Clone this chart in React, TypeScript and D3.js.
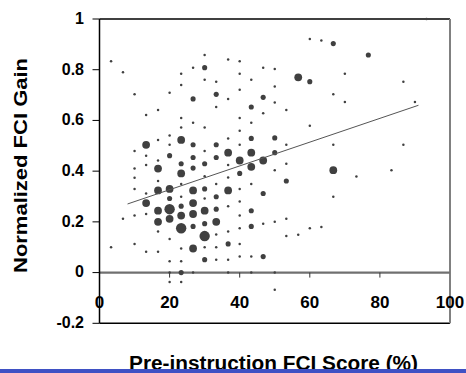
import React, { useEffect, useRef } from 'react';
import { select, scaleLinear, line } from 'd3';

// pre-instruction score columns (30-item test, so steps of 3.33%)
const pretestColumns = [3.3, 6.7, 10, 13.3, 16.7, 20, 23.3, 26.7, 30, 33.3, 36.7, 40, 43.3, 46.7, 50, 53.3, 56.7, 60, 63.3, 66.7, 70, 73.3, 76.7, 83.3, 86.7, 90, 93.3];

const gainsByColumn = [
    [0.833, 0.1],
    [0.79, 0.212],
    [0.703, 0.479, 0.41, 0.374, 0.33, 0.225, 0.113],
    [0.621, 0.504, 0.461, 0.424, 0.312, 0.274, 0.231, 0.082],
    [0.641, 0.523, 0.442, 0.41, 0.361, 0.324, 0.244, 0.2, 0.162, 0.082],
    [0.709, 0.541, 0.504, 0.461, 0.33, 0.292, 0.25, 0.212, 0.132, 0.045, 0, -0.037],
    [0.784, 0.74, 0.61, 0.572, 0.523, 0.429, 0.391, 0.349, 0.299, 0.262, 0.225, 0.175, 0.095, 0.045, 0, -0.037],
    [0.808, 0.685, 0.591, 0.504, 0.454, 0.412, 0.324, 0.274, 0.231, 0.182, 0.095, 0],
    [0.858, 0.808, 0.76, 0.572, 0.479, 0.429, 0.38, 0.33, 0.292, 0.244, 0.193, 0.144, 0.1, 0.051],
    [0.753, 0.703, 0.653, 0.504, 0.454, 0.349, 0.299, 0.25, 0.2, 0.15, 0.1, 0.051],
    [0.84, 0.685, 0.529, 0.473, 0.424, 0.375, 0.324, 0.262, 0.162, 0.113, 0.051, 0],
    [0.833, 0.784, 0.721, 0.61, 0.559, 0.504, 0.442, 0.391, 0.33, 0.28, 0.225, 0.175, 0.113, 0.063],
    [0.76, 0.653, 0.591, 0.529, 0.473, 0.417, 0.349, 0.244, 0.182, 0.063, 0],
    [0.808, 0.691, 0.628, 0.442, 0.312, 0.193, 0.063],
    [0.803, 0.734, 0.671, 0.531, 0.473, 0.404, 0.2, 0, -0.068],
    [0.641, 0.504, 0.429, 0.361, 0.212, 0.144],
    [0.77, 0.149],
    [0.921, 0.753, 0.579, 0.175],
    [0.915, 0.18],
    [0.903, 0.703, 0.504, 0.404, 0.299],
    [0.784, 0.673],
    [0.379],
    [0.858],
    [0.404],
    [0.753, 0.504],
    [0.673],
    [1.0],
];

// relative class size (1 = smallest dot)
const sizesByColumn = [
    [1, 1],
    [1, 1],
    [1, 1, 1, 1, 1, 1, 1],
    [1, 3, 1, 1, 1, 3, 1, 1],
    [1, 1, 1, 3, 1, 3, 3, 3, 1, 1],
    [1, 1, 1, 2, 3, 2, 4, 3, 1, 1, 1, 1],
    [1, 1, 1, 1, 3, 2, 3, 1, 1, 2, 3, 4, 1, 1, 2, 1],
    [1, 2, 1, 2, 2, 2, 3, 3, 3, 2, 3, 1],
    [1, 2, 1, 1, 1, 2, 1, 2, 1, 3, 2, 4, 1, 2],
    [1, 2, 1, 2, 2, 1, 2, 2, 3, 1, 1, 1],
    [1, 1, 1, 3, 1, 1, 3, 1, 1, 2, 1, 1],
    [1, 1, 1, 1, 1, 1, 3, 2, 1, 1, 1, 1, 1, 1],
    [1, 2, 1, 2, 3, 3, 1, 2, 2, 1, 1],
    [1, 2, 1, 3, 2, 1, 2],
    [1, 1, 1, 2, 2, 1, 1, 1, 1],
    [1, 1, 1, 2, 1, 1],
    [3, 1],
    [1, 2, 1, 1],
    [1, 1],
    [2, 1, 1, 3, 1],
    [1, 1],
    [1],
    [2],
    [1],
    [1, 1],
    [1],
    [1],
];

// linear fit
const fitIntercept = 0.233;
const fitSlope = 0.00469;
const fitRange = [8, 91];

const xTicks = [0, 20, 40, 60, 80, 100];
const yTicks = [-0.2, 0, 0.2, 0.4, 0.6, 0.8, 1];
const yTickLabels = ['-0.2', '0', '0.2', '0.4', '0.6', '0.8', '1'];

const W = 466;
const H = 373;
const FONT = '"Liberation Sans", Arial, sans-serif';

export default function App() {
    const svgRef = useRef(null);

    useEffect(() => {
        const svg = select(svgRef.current);
        svg.selectAll('*').remove();

        const x = scaleLinear().domain([0, 100]).range([99.5, 450]);
        const y = scaleLinear().domain([-0.2, 1]).range([323.3, 19]);
        const r = scaleLinear().domain([1, 4]).range([1.25, 5.2]);

        const points = [];
        pretestColumns.forEach((px, i) => {
            gainsByColumn[i].forEach((g, j) => {
                points.push({ pre: px, gain: g, size: sizesByColumn[i][j] });
            });
        });

        // frame
        svg.append('line').attr('x1', x(0)).attr('x2', x(100)).attr('y1', y(1)).attr('y2', y(1))
            .attr('stroke', '#000').attr('stroke-width', 1.5);
        svg.append('line').attr('x1', x(0)).attr('x2', x(100)).attr('y1', y(-0.2)).attr('y2', y(-0.2))
            .attr('stroke', '#000').attr('stroke-width', 1.5);
        svg.append('line').attr('x1', x(100)).attr('x2', x(100)).attr('y1', y(1)).attr('y2', y(-0.2))
            .attr('stroke', '#808080').attr('stroke-width', 2);

        // x axis sits on gain = 0
        svg.append('line').attr('x1', x(0)).attr('x2', x(100)).attr('y1', y(0)).attr('y2', y(0))
            .attr('stroke', '#707070').attr('stroke-width', 2.2);
        svg.selectAll('.xtick')
            .data(xTicks.slice(1, -1))
            .join('line')
            .attr('class', 'xtick')
            .attr('x1', d => x(d)).attr('x2', d => x(d))
            .attr('y1', y(0)).attr('y2', y(0) + 5)
            .attr('stroke', '#333').attr('stroke-width', 1);

        // y axis
        svg.append('line').attr('x1', x(0)).attr('x2', x(0)).attr('y1', y(1)).attr('y2', y(-0.2))
            .attr('stroke', '#000').attr('stroke-width', 1.5);
        svg.selectAll('.ytick')
            .data(yTicks)
            .join('line')
            .attr('class', 'ytick')
            .attr('x1', x(0) - 7).attr('x2', x(0))
            .attr('y1', d => y(d)).attr('y2', d => y(d))
            .attr('stroke', '#000').attr('stroke-width', 1);

        svg.selectAll('.ylab')
            .data(yTicks)
            .join('text')
            .attr('class', 'ylab')
            .attr('x', 84)
            .attr('y', d => y(d))
            .attr('dy', '0.3em')
            .attr('text-anchor', 'end')
            .attr('font-family', FONT).attr('font-weight', 'bold').attr('font-size', 16)
            .text((d, i) => yTickLabels[i]);

        // points
        svg.selectAll('.pt')
            .data(points)
            .join('circle')
            .attr('class', 'pt')
            .attr('cx', d => x(d.pre))
            .attr('cy', d => y(d.gain))
            .attr('r', d => r(d.size))
            .attr('fill', '#404040');

        // fit line
        const fit = line().x(d => x(d)).y(d => y(fitIntercept + fitSlope * d));
        svg.append('path')
            .attr('d', fit(fitRange))
            .attr('fill', 'none')
            .attr('stroke', '#555')
            .attr('stroke-width', 1);

        // x labels drawn over the frame
        svg.selectAll('.xlab')
            .data(xTicks)
            .join('text')
            .attr('class', 'xlab')
            .attr('x', d => x(d))
            .attr('y', 307.5)
            .attr('text-anchor', 'middle')
            .attr('font-family', FONT).attr('font-weight', 'bold').attr('font-size', 17)
            .text(d => d);

        // axis titles
        svg.append('text')
            .attr('transform', 'translate(27,165.5) rotate(-90)')
            .attr('text-anchor', 'middle')
            .attr('font-family', FONT).attr('font-weight', 'bold').attr('font-size', 19)
            .attr('textLength', 215).attr('lengthAdjust', 'spacingAndGlyphs')
            .text('Normalized FCI Gain');

        svg.append('text')
            .attr('x', 273.5)
            .attr('y', 369.5)
            .attr('text-anchor', 'middle')
            .attr('font-family', FONT).attr('font-weight', 'bold').attr('font-size', 20)
            .attr('textLength', 289).attr('lengthAdjust', 'spacingAndGlyphs')
            .text('Pre-instruction FCI Score (%)');

        // blue rule at the bottom
        svg.append('rect').attr('x', 0).attr('y', 369).attr('width', W).attr('height', 4).attr('fill', '#3f51c4');
    }, []);

    return (
        <svg ref={svgRef} width={W} height={H}
             style={{ position: 'absolute', left: 0, top: 0, background: '#fff' }} />
    );
}
